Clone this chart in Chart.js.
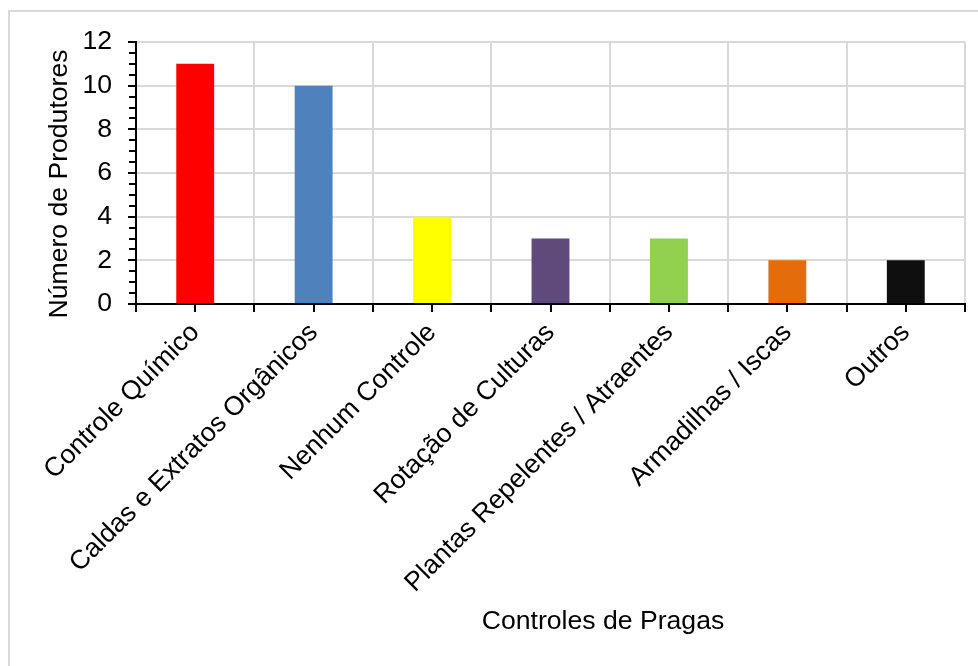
<!DOCTYPE html>
<html>
<head>
<meta charset="utf-8">
<script src="https://cdn.jsdelivr.net/npm/chart.js@4.4.0/dist/chart.umd.min.js"></script>
<style>
  html, body { margin: 0; padding: 0; background: #fff; }
  #wrap { width: 978px; height: 666px; position: relative; }
</style>
</head>
<body>
<div id="wrap"><canvas id="pragas" width="978" height="666"></canvas></div>
<script>
// data
var categories = ["Controle Químico", "Caldas e Extratos Orgânicos", "Nenhum Controle",
  "Rotação de Culturas", "Plantas Repelentes / Atraentes", "Armadilhas / Iscas", "Outros"];
var produtores = [11, 10, 4, 3, 3, 2, 2];
var barColors = ["#FF0000", "#4F81BD", "#FFFF00", "#604A7B", "#92D050", "#E46C0A", "#0F0F0F"];
var yTicks = [0, 2, 4, 6, 8, 10, 12];
var yMinorStep = 0.5;
var xTitle = "Controles de Pragas";
var yTitle = "Número de Produtores";

var FONT = "'Liberation Sans', Arial, Helvetica, sans-serif";
var FSIZE = 26.6;

// extra marks Excel draws: outer frame, minor y ticks, x ticks at category centres, axis titles
var excelBits = {
  id: 'excelBits',
  beforeDraw: function(chart) {
    var c = chart.ctx;
    c.save();
    c.strokeStyle = '#d9d9d9';
    c.lineWidth = 2;
    c.beginPath();
    c.moveTo(9, chart.height);
    c.lineTo(9, 11);
    c.lineTo(chart.width, 11);
    c.stroke();
    c.restore();
  },
  afterDraw: function(chart) {
    var c = chart.ctx;
    var y = chart.scales.y, x = chart.scales.x;
    var area = chart.chartArea;
    c.save();
    c.strokeStyle = '#000';
    c.lineWidth = 2;
    c.beginPath();
    for (var v = yTicks[0]; v <= yTicks[yTicks.length - 1]; v += yMinorStep) {
      var py = Math.round(y.getPixelForValue(v));
      c.moveTo(area.left - 7, py);
      c.lineTo(area.left, py);
    }
    for (var i = 0; i < categories.length; i++) {
      var px = Math.round(x.getPixelForValue(i));
      c.moveTo(px, area.bottom);
      c.lineTo(px, area.bottom + 8);
    }
    c.stroke();

    c.fillStyle = '#000';
    c.font = FSIZE + 'px ' + FONT;
    c.textAlign = 'center';
    c.textBaseline = 'middle';
    c.fillText(xTitle, 603, 622);
    c.translate(60, 184);
    c.rotate(-Math.PI / 2);
    c.fillText(yTitle, 0, 0);
    c.restore();
  }
};

var ctx = document.getElementById('pragas').getContext('2d');
var chart = new Chart(ctx, {
  type: 'bar',
  data: {
    labels: categories,
    datasets: [{
      label: yTitle,
      data: produtores,
      backgroundColor: barColors,
      borderWidth: 0,
      barPercentage: 0.32,
      categoryPercentage: 1
    }]
  },
  options: {
    responsive: false,
    animation: false,
    layout: { padding: { left: 0, top: 42, right: 13, bottom: 0 } },
    plugins: {
      legend: { display: false },
      tooltip: { enabled: false }
    },
    scales: {
      x: {
        offset: true,
        grid: {
          offset: true,
          color: '#d9d9d9',
          lineWidth: 2,
          tickColor: '#000',
          tickLength: 8
        },
        border: { color: '#000', width: 2 },
        ticks: {
          autoSkip: false,
          minRotation: 45,
          maxRotation: 45,
          padding: 5,
          color: '#000',
          font: { family: FONT, size: FSIZE }
        },
        afterFit: function(scale) { scale.height = 362; }
      },
      y: {
        min: 0,
        max: 12,
        afterBuildTicks: function(scale) {
          scale.ticks = yTicks.map(function(v) { return { value: v }; });
        },
        grid: {
          color: '#d9d9d9',
          lineWidth: 2,
          tickColor: '#000',
          tickLength: 8
        },
        border: { color: '#000', width: 2 },
        ticks: {
          padding: 16,
          color: '#000',
          font: { family: FONT, size: FSIZE }
        },
        afterFit: function(scale) { scale.width = 136; }
      }
    }
  },
  plugins: [excelBits]
});
</script>
</body>
</html>
